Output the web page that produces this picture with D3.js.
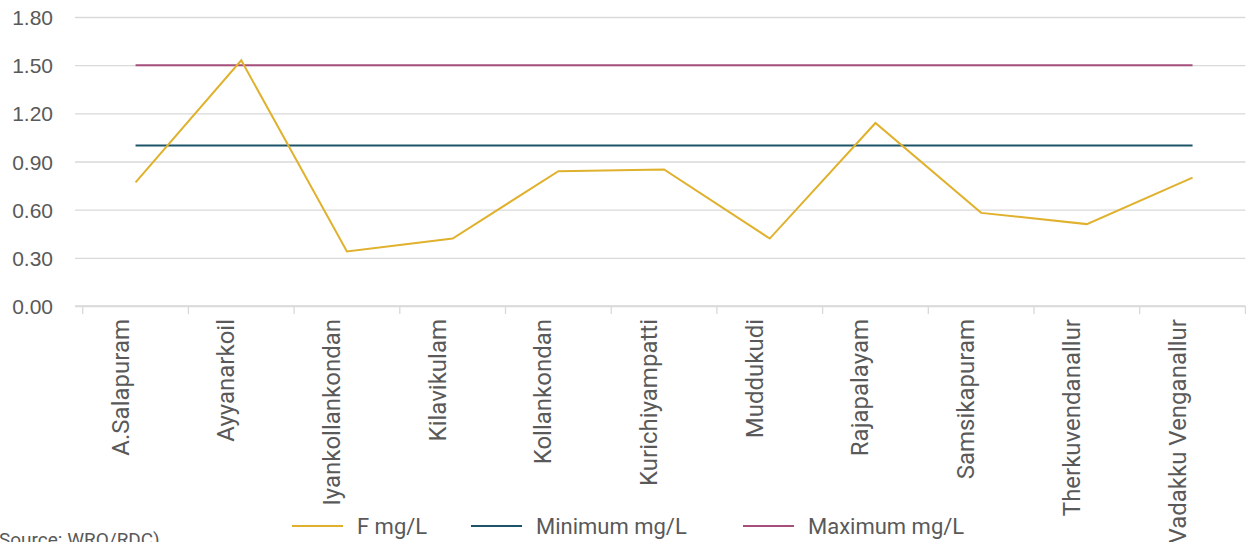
<!DOCTYPE html>
<html>
<head>
<meta charset="utf-8">
<script src="https://cdnjs.cloudflare.com/ajax/libs/d3/7.8.5/d3.min.js"></script>
<style>
  body { margin: 0; background: #fff; }
  svg { display: block; font-family: Roboto, "Noto Sans", sans-serif; }
</style>
</head>
<body>
<svg id="chart"></svg>
<script>
// villages on the x axis
var villages = ["A.Salapuram", "Ayyanarkoil", "Iyankollankondan", "Kilavikulam", "Kollankondan",
  "Kurichiyampatti", "Muddukudi", "Rajapalayam", "Samsikapuram", "Therkuvendanallur", "Vadakku Venganallur"];

// fluoride readings, mg/L
var fluoride = [0.77, 1.53, 0.34, 0.42, 0.84, 0.85, 0.42, 1.14, 0.58, 0.51, 0.80];
// permissible limits (flat lines)
var minimumLimit = [1.00, 1.00, 1.00, 1.00, 1.00, 1.00, 1.00, 1.00, 1.00, 1.00, 1.00];
var maximumLimit = [1.50, 1.50, 1.50, 1.50, 1.50, 1.50, 1.50, 1.50, 1.50, 1.50, 1.50];

var yTicks = [0, 0.3, 0.6, 0.9, 1.2, 1.5, 1.8];

var seriesNames = ["F mg/L", "Minimum mg/L", "Maximum mg/L"];
var seriesColors = ["#e0b12d", "#1d5468", "#a64f7c"];

/* settings */
var width = 1247, height = 542;
var gridLeft = 75, plotLeft = 82.7, plotRight = 1245.4,
    plotTop = 17, plotBottom = 306;
var textColor = "#595959", gridColor = "#d9d9d9";

var svg = d3.select("#chart")
  .attr("width", width)
  .attr("height", height);

var xScale = d3.scaleBand()
  .domain(villages)
  .range([plotLeft, plotRight])
  .paddingInner(0).paddingOuter(0);

var yScale = d3.scaleLinear()
  .domain([0, 1.8])
  .range([plotBottom, plotTop]);

/* gridlines + y labels */
var yAxis = d3.axisLeft(yScale)
  .tickValues(yTicks)
  .tickFormat(d3.format(".2f"))
  .tickSize(-(plotRight - gridLeft))
  .tickPadding(22);

var yAxisG = svg.append("g")
  .attr("class", "y-axis")
  .attr("transform", "translate(" + gridLeft + ",0)")
  .call(yAxis);

yAxisG.select(".domain").remove();
yAxisG.selectAll(".tick line")
  .attr("stroke", gridColor)
  .attr("stroke-width", 1.3);
yAxisG.selectAll(".tick text")
  .attr("fill", textColor)
  .style("font-size", "21px")
  .attr("dy", "0.36em");

/* x axis: baseline with ticks at band edges */
svg.append("line")
  .attr("x1", gridLeft).attr("x2", plotRight)
  .attr("y1", plotBottom).attr("y2", plotBottom)
  .attr("stroke", gridColor).attr("stroke-width", 1.3);

var edges = villages.map(function(v) { return xScale(v); }).concat([plotRight]);
svg.selectAll(".x-tick")
  .data(edges)
  .enter().append("line")
  .attr("class", "x-tick")
  .attr("x1", function(d) { return d; }).attr("x2", function(d) { return d; })
  .attr("y1", plotBottom).attr("y2", plotBottom + 8)
  .attr("stroke", gridColor).attr("stroke-width", 1.3);

svg.selectAll(".x-label")
  .data(villages)
  .enter().append("text")
  .attr("class", "x-label")
  .attr("transform", function(d) {
    return "translate(" + (xScale(d) + xScale.bandwidth() / 2 - 7) + "," + (plotBottom + 13) + ") rotate(-90)";
  })
  .attr("text-anchor", "end")
  .attr("fill", textColor)
  .style("font-size", "24px")
  .text(function(d) { return d; });

/* lines */
var line = d3.line()
  .x(function(d, i) { return xScale(villages[i]) + xScale.bandwidth() / 2; })
  .y(function(d) { return yScale(d); });

var allSeries = [maximumLimit, minimumLimit, fluoride];
var allColors = [seriesColors[2], seriesColors[1], seriesColors[0]];

svg.selectAll(".series")
  .data(allSeries)
  .enter().append("path")
  .attr("class", "series")
  .attr("fill", "none")
  .attr("stroke", function(d, i) { return allColors[i]; })
  .attr("stroke-width", 2)
  .attr("stroke-linejoin", "miter")
  .attr("d", line);

/* legend */
var legendX = [292, 471, 743];
var legend = svg.selectAll(".legend")
  .data(seriesNames)
  .enter().append("g")
  .attr("class", "legend")
  .attr("transform", function(d, i) { return "translate(" + legendX[i] + ",526)"; });

legend.append("line")
  .attr("x1", 0).attr("x2", 51)
  .attr("stroke", function(d, i) { return seriesColors[i]; })
  .attr("stroke-width", 2);

legend.append("text")
  .attr("x", 65)
  .attr("y", 8)
  .attr("fill", textColor)
  .style("font-size", "22px")
  .text(function(d) { return d; });

/* source note at the bottom edge */
svg.append("text")
  .attr("x", -1)
  .attr("y", 546)
  .attr("fill", textColor)
  .style("font-size", "19px")
  .text("Source: WRO/RDC)");
</script>
</body>
</html>
